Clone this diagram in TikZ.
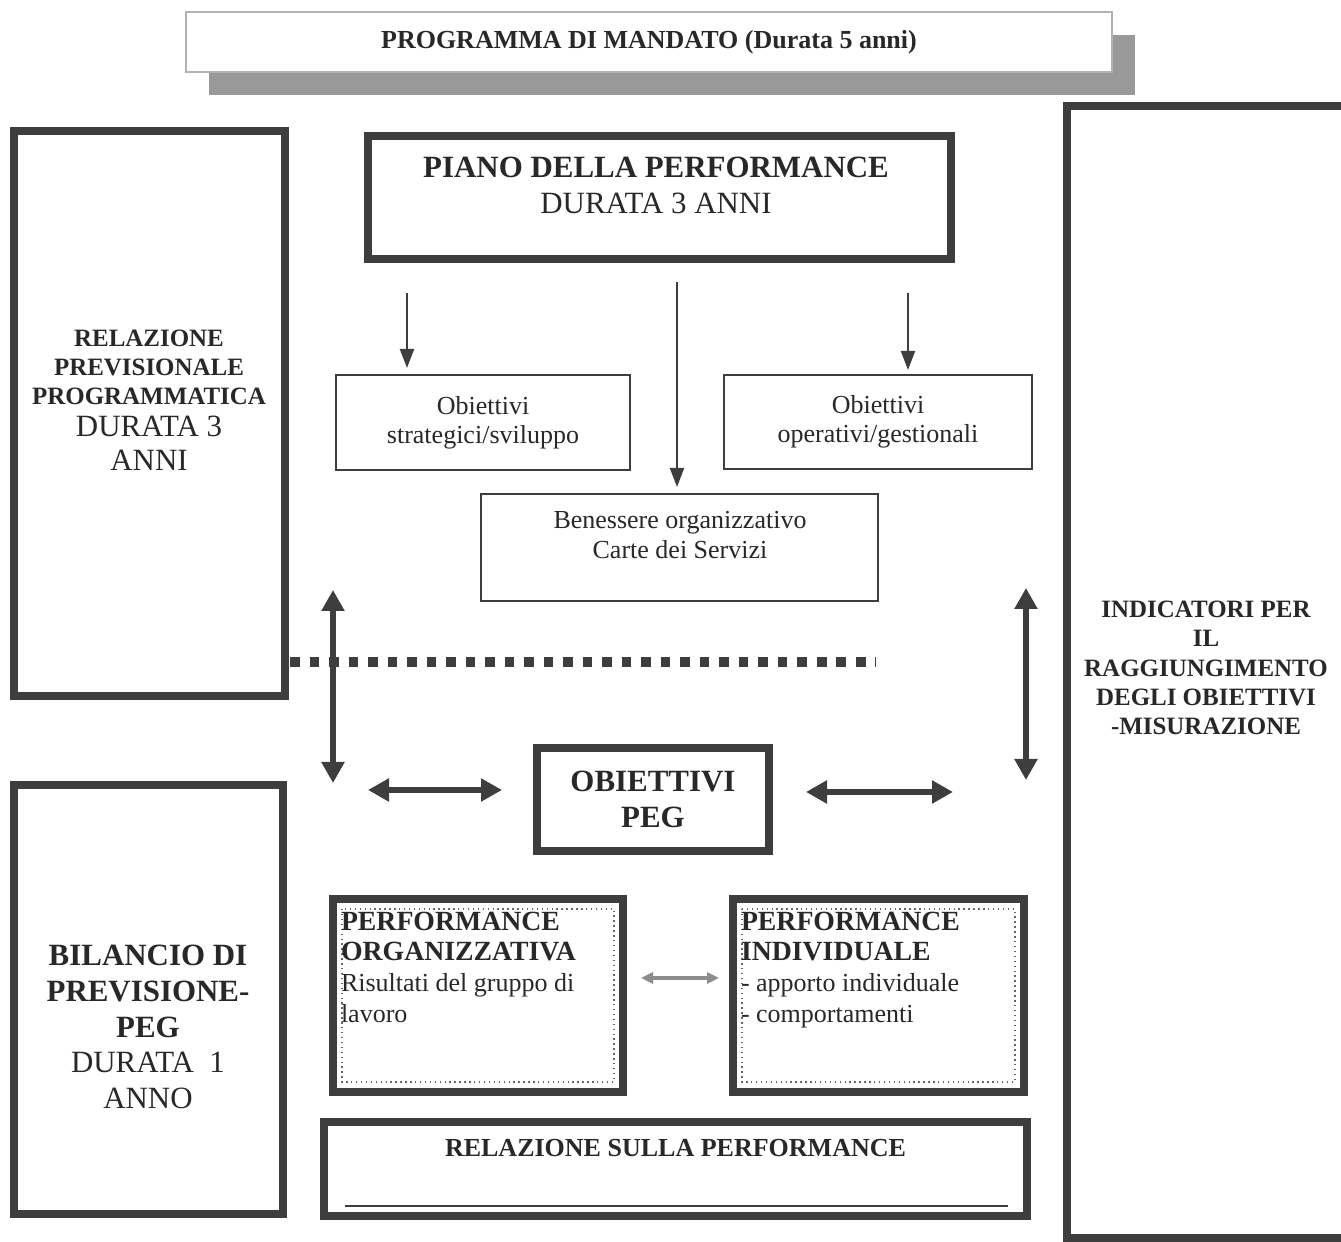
\documentclass[tikz,border=0pt]{standalone}
\usepackage{fontspec}
\setmainfont{Liberation Serif}
\usetikzlibrary{arrows.meta,shadows}
\definecolor{ink}{RGB}{62,62,62}
\definecolor{txt}{RGB}{40,40,40}
\newcommand{\fsm}{\fontsize{7.4}{8.3}\selectfont}
\newcommand{\fsb}{\fontsize{7.1}{8.3}\selectfont}
\newcommand{\fbg}{\fontsize{8.8}{10.2}\selectfont}
\newcommand{\fpf}{\fontsize{7.4}{8.7}\selectfont}
\newcommand{\fpb}{\fontsize{7.9}{8.7}\selectfont}

\begin{document}
\begin{tikzpicture}
	\tikzstyle{every node}=[text=txt, inner sep=0pt, outer sep=0pt];
	\tikzstyle{thickbox}=[draw=ink, line width=2.1pt];
	\tikzstyle{thinbox}=[draw=ink, line width=0.6pt];
	\tikzstyle{innerframe}=[draw=ink!80, line width=0.4pt, densely dotted];
	\tikzstyle{downarrow}=[draw=ink, line width=0.6pt, -{Triangle[width=1.4mm, length=1.9mm]}];
	\tikzstyle{bigarrow}=[draw=ink, line width=1.7pt, {Triangle[width=2.2mm, length=2.1mm]}-{Triangle[width=2.2mm, length=2.1mm]}];
	\tikzstyle{smallarrow}=[draw=gray!90, line width=1.3pt, {Triangle[width=1.1mm, length=1.2mm]}-{Triangle[width=1.1mm, length=1.2mm]}];
	\tikzstyle{squareline}=[draw=ink, line width=2.8pt, dash pattern=on 2.8pt off 2.75pt];
	\useasboundingbox (0,0) rectangle (13.41,-12.42);
	\fill [white] (0,0) rectangle (13.41,-12.42);
	\clip (0,0) rectangle (13.41,-12.42);
	\node [draw=gray!60, line width=0.7pt, fill=white, minimum width=9.26cm, minimum height=0.6cm, drop shadow={shadow xshift=0.23cm, shadow yshift=-0.23cm, fill=gray!80, opacity=1}, font=\fsm\bfseries] (mandato) at (6.49,-0.42) {PROGRAMMA DI MANDATO (Durata 5 anni)};
	\node [thickbox, minimum width=2.71cm, minimum height=5.65cm] (rpp) at (1.495,-4.135) {};
	\node [align=center, font=\fsb\bfseries] (trpp) at (1.49,-4.0) {RELAZIONE\\PREVISIONALE\\PROGRAMMATICA\\[0.8pt]{\fbg\mdseries DURATA 3}\\[1.4pt]{\fbg\mdseries ANNI}};
	\node [thickbox, minimum width=2.69cm, minimum height=4.29cm] (bil) at (1.485,-9.995) {};
	\node [align=center, font=\fbg\bfseries] (tbil) at (1.48,-10.27) {BILANCIO DI\\PREVISIONE-\\PEG\\{\mdseries DURATA\ \ 1}\\{\mdseries ANNO}};
	\node [thickbox, minimum width=3.33cm, minimum height=11.32cm] (ind) at (12.335,-6.72) {};
	\node [align=center, font=\fsb\bfseries] (tind) at (12.06,-6.68) {INDICATORI PER\\IL\\RAGGIUNGIMENTO\\DEGLI OBIETTIVI\\-MISURAZIONE};
	\node [thickbox, minimum width=5.83cm, minimum height=1.23cm] (piano) at (6.595,-1.975) {};
	\node [align=center, font=\fbg] (tpiano) at (6.56,-1.85) {{\bfseries PIANO DELLA PERFORMANCE}\\DURATA 3 ANNI};
	\node [thinbox, minimum width=2.94cm, minimum height=0.95cm, align=center, font=\fsm] (strat) at (4.83,-4.225) {Obiettivi\\strategici/sviluppo};
	\node [thinbox, minimum width=3.08cm, minimum height=0.94cm, align=center, font=\fsm] (oper) at (8.78,-4.22) {Obiettivi\\operativi/gestionali};
	\node [thinbox, minimum width=3.97cm, minimum height=1.07cm] (benes) at (6.795,-5.475) {};
	\node [align=center, font=\fsm] (tbenes) at (6.80,-5.35) {Benessere organizzativo\\Carte dei Servizi};
	\coordinate (d1) at (4.07,-2.93);
	\coordinate (d2) at (6.77,-2.82);
	\coordinate (d3) at (9.08,-2.93);
	\draw [downarrow, shorten >=0.07cm] (d1) -- (strat.north -| d1);
	\draw [downarrow, shorten >=0.07cm] (d2) -- (benes.north -| d2);
	\draw [downarrow, shorten >=0.05cm] (d3) -- (oper.north -| d3);
	\coordinate (dl1) at (2.90,-6.62);
	\coordinate (dl2) at (8.76,-6.62);
	\draw [squareline] (dl1) -- (dl2);
	\node [thickbox, minimum width=2.32cm, minimum height=1.03cm, align=center, font=\fbg\bfseries] (peg) at (6.53,-7.995) {OBIETTIVI\\PEG};
	\coordinate (vl1) at (3.33,-5.90);
	\coordinate (vl2) at (3.33,-7.83);
	\coordinate (vr1) at (10.26,-5.88);
	\coordinate (vr2) at (10.26,-7.80);
	\coordinate (hl1) at (3.68,-7.90);
	\coordinate (hl2) at (5.02,-7.90);
	\coordinate (hr1) at (8.06,-7.92);
	\coordinate (hr2) at (9.53,-7.92);
	\draw [bigarrow] (vl1) -- (vl2);
	\draw [bigarrow] (vr1) -- (vr2);
	\draw [bigarrow] (hl1) -- (hl2);
	\draw [bigarrow] (hr1) -- (hr2);
	\node [thickbox, minimum width=2.90cm, minimum height=1.93cm] (porg) at (4.78,-9.955) {};
	\node [thickbox, minimum width=2.91cm, minimum height=1.93cm] (pind) at (8.785,-9.955) {};
	\draw [innerframe] ([shift={(0.09,-0.1)}]porg.north west) rectangle ([shift={(-0.09,0.1)}]porg.south east);
	\draw [innerframe] ([shift={(0.09,-0.1)}]pind.north west) rectangle ([shift={(-0.09,0.1)}]pind.south east);
	\node [anchor=north west, align=left, font=\fpf] (tporg) at (3.41,-9.12) {{\fpb\bfseries PERFORMANCE}\\{\fpb\bfseries ORGANIZZATIVA}\\Risultati del gruppo di\\lavoro};
	\node [anchor=north west, align=left, font=\fpf] (tpind) at (7.41,-9.12) {{\fpb\bfseries PERFORMANCE}\\{\fpb\bfseries INDIVIDUALE}\\- apporto individuale\\- comportamenti};
	\draw [smallarrow, shorten <=0.18cm, shorten >=0.14cm] ([yshift=0.175cm]porg.east) -- ([yshift=0.175cm]pind.west);
	\node [thickbox, minimum width=7.03cm, minimum height=0.94cm] (relaz) at (6.755,-11.69) {};
	\node [font=\fsm\bfseries] (trelaz) at (6.755,-11.48) {RELAZIONE SULLA PERFORMANCE};
	\draw [draw=ink, line width=0.5pt] ([xshift=0.21cm, yshift=0.1cm]relaz.south west) -- ([xshift=-0.19cm, yshift=0.1cm]relaz.south east);
\end{tikzpicture}
\end{document}
